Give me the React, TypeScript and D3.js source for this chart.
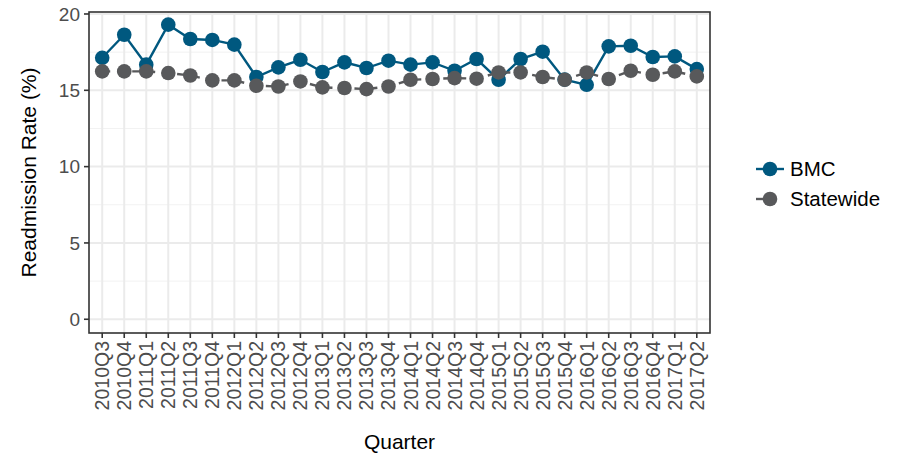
import React from "react";
import * as d3 from "d3";

const quarters = [
  "2010Q3","2010Q4","2011Q1","2011Q2","2011Q3","2011Q4","2012Q1","2012Q2","2012Q3","2012Q4",
  "2013Q1","2013Q2","2013Q3","2013Q4","2014Q1","2014Q2","2014Q3","2014Q4","2015Q1","2015Q2",
  "2015Q3","2015Q4","2016Q1","2016Q2","2016Q3","2016Q4","2017Q1","2017Q2",
];
const bmc = [
  17.13, 18.64, 16.68, 19.3, 18.36, 18.3, 17.99, 15.87, 16.5, 17.0,
  16.2, 16.83, 16.46, 16.94, 16.68, 16.83, 16.28, 17.05, 15.69, 17.05,
  17.53, 15.7, 15.36, 17.88, 17.92, 17.18, 17.22, 16.39,
];
const statewide = [
  16.24, 16.24, 16.24, 16.13, 15.97, 15.65, 15.65, 15.3, 15.25, 15.58,
  15.19, 15.15, 15.08, 15.25, 15.69, 15.74, 15.8, 15.76, 16.17, 16.17,
  15.87, 15.69, 16.17, 15.74, 16.28, 16.02, 16.24, 15.91,
];
const yTicks = [0, 5, 10, 15, 20];
const yMinor = [2.5, 7.5, 12.5, 17.5];
const seriesNames = ["BMC", "Statewide"];
const seriesColors = ["#00587F", "#58595B"];

const W = 901, H = 458;
const L = 89, R = 710, T = 12, B = 333;
const FONT = "'Liberation Sans', Arial, Helvetica, sans-serif";

export default function App() {
  const x = d3.scalePoint<string>().domain(quarters).range([L, R]).padding(0.6);
  const y = d3.scaleLinear().domain([-0.9, 20.13]).range([B, T]);
  const line = d3.line<number>().x((_, i) => x(quarters[i])!).y((v) => y(v));
  const series = [bmc, statewide];
  const dashes = [undefined, "8,7"];

  return (
    <svg width={W} height={H} style={{ position: "absolute", left: 0, top: 0, fontFamily: FONT }}>
      <rect x={0} y={0} width={W} height={H} fill="#fff" />
      {yMinor.map((v) => (
        <line key={"m" + v} x1={L} x2={R} y1={y(v)} y2={y(v)} stroke="#F2F2F2" strokeWidth={1} />
      ))}
      {yTicks.map((v) => (
        <line key={"g" + v} x1={L} x2={R} y1={y(v)} y2={y(v)} stroke="#EBEBEB" strokeWidth={2} />
      ))}
      {quarters.map((q) => (
        <line key={"v" + q} x1={x(q)} x2={x(q)} y1={T} y2={B} stroke="#EBEBEB" strokeWidth={2} />
      ))}
      {series.map((s, k) => (
        <path key={"l" + k} d={line(s)!} fill="none" stroke={seriesColors[k]} strokeWidth={2.4}
          strokeDasharray={dashes[k]} />
      ))}
      {series.map((s, k) =>
        s.map((v, i) => (
          <circle key={"p" + k + "-" + i} cx={x(quarters[i])} cy={y(v)} r={7.3} fill={seriesColors[k]} />
        ))
      )}
      <rect x={L} y={T} width={R - L} height={B - T} fill="none" stroke="#333333" strokeWidth={1.6} />
      {yTicks.map((v) => (
        <g key={"yt" + v}>
          <line x1={L - 5} x2={L} y1={y(v)} y2={y(v)} stroke="#333333" strokeWidth={1.6} />
          <text x={L - 9} y={y(v)} dy="0.36em" textAnchor="end" fontSize={19} fill="#4D4D4D">{v}</text>
        </g>
      ))}
      {quarters.map((q) => (
        <g key={"xt" + q}>
          <line x1={x(q)} x2={x(q)} y1={B} y2={B + 5} stroke="#333333" strokeWidth={1.6} />
          <text transform={`translate(${x(q)! + 7},${B + 8}) rotate(-90)`} textAnchor="end" fontSize={19.5} fill="#4D4D4D">{q}</text>
        </g>
      ))}
      <text x={(L + R) / 2} y={449} textAnchor="middle" fontSize={21} fill="#000">Quarter</text>
      <text transform={`translate(36,${(T + B) / 2}) rotate(-90)`} textAnchor="middle" fontSize={21} fill="#000">Readmission Rate (%)</text>
      {seriesNames.map((n, k) => {
        const cy = 169 + k * 30;
        return (
          <g key={"lg" + n}>
            <line x1={756} x2={784} y1={cy} y2={cy} stroke={seriesColors[k]} strokeWidth={2.4} strokeDasharray={dashes[k] ? "7,7" : undefined} />
            <circle cx={770} cy={cy} r={7.3} fill={seriesColors[k]} />
            <text x={790} y={cy} dy="0.36em" fontSize={20.5} fill="#000">{n}</text>
          </g>
        );
      })}
    </svg>
  );
}
